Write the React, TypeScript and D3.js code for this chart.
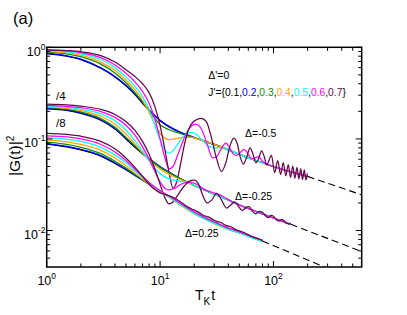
import React from "react";
import * as d3 from "d3";

type P = [number, number];

// ---------- Δ = -0.5 (unscaled) ----------
const dm05Tail: P[] = [[25,0.094],[30,0.087],[40,0.076],[50,0.068],[60,0.062],[80,0.055],[100,0.05],[130,0.045],[160,0.042],[200,0.039]];
const dm05_J01: P[] = [[1,0.855],[1.5,0.8],[2,0.735],[3,0.59],[4,0.475],[5,0.38],[6,0.305],[7,0.245],[8,0.205],[9,0.178],[10,0.158],[12,0.135],[15,0.118],[20,0.103]];
const dm05_J02: P[] = [[1,0.862],[1.5,0.806],[2,0.742],[3,0.597],[4,0.481],[5,0.386],[6,0.31],[7,0.25],[8,0.208],[9,0.18],[10,0.16],[12,0.137],[15,0.119],[20,0.104]];
const dm05_J03: P[] = [[1,0.89],[1.5,0.848],[2,0.79],[3,0.655],[4,0.525],[5,0.41],[6,0.32],[7,0.255],[8,0.203],[9,0.167],[10,0.143],[12,0.126],[15,0.115],[20,0.103]];
const dm05_J04: P[] = [[1,0.905],[1.5,0.872],[2,0.822],[3,0.69],[4,0.56],[5,0.44],[6,0.345],[7,0.265],[8,0.195],[9,0.145],[10,0.115],[11,0.102],[12,0.098],[13.5,0.1],[16,0.104],[19,0.104],[22,0.099]];
const dm05_J05: P[] = [[1,0.92],[1.5,0.893],[2,0.85],[3,0.735],[4,0.6],[5,0.475],[6,0.375],[7,0.29],[8,0.21],[9,0.14],[10,0.097],[11,0.076],[12,0.07],[13,0.074],[14.5,0.09],[16.5,0.11],[18.5,0.118],[21,0.112],[24,0.094],[27.5,0.082],[31,0.08],[35,0.081],[40,0.076],[50,0.068]];
const dm05_J06: P[] = [[1,0.935],[1.5,0.912],[2,0.875],[3,0.77],[4,0.64],[5,0.52],[6,0.42],[7,0.33],[8,0.245],[9,0.165],[10,0.1],[11,0.063],[12,0.047],[13,0.05],[14.5,0.07],[16.5,0.105],[18.5,0.135],[20.5,0.145],[23,0.13],[26,0.088],[29,0.062],[31.5,0.064],[35,0.08],[38,0.09],[41,0.08],[44,0.069],[47,0.066],[51,0.071],[55,0.077],[59,0.07],[64,0.061],[69,0.062],[74,0.064],[80,0.057],[90,0.052]];
const dm05_J07: P[] = [[1,0.935],[1.5,0.92],[2,0.895],[3,0.81],[4,0.69],[5,0.57],[6,0.48],[7,0.4],[8,0.32],[9,0.225],[10,0.14],[11,0.078],[12,0.043],[13,0.029],[14,0.034],[15,0.05],[16,0.075],[17,0.105],[18.5,0.14],[20.5,0.16],[23,0.168],[25.5,0.155],[28,0.11],[31,0.066],[34.8,0.044],[38,0.055],[41.5,0.085],[44.7,0.102],[48,0.088],[51,0.063],[54.2,0.053],[58,0.063],[62.2,0.08],[66,0.068],[70,0.055],[74,0.061],[78.5,0.074],[83,0.064],[87,0.052],[96,0.066],[102.5,0.043],[109,0.058],[115.5,0.041],[122,0.055],[128.5,0.0395],[135,0.0525],[141.5,0.038],[148,0.0505],[154.5,0.0372],[161,0.049],[167.5,0.0365],[174,0.0475],[180.5,0.036],[187,0.046],[193.5,0.0355],[199,0.042]];

// ---------- Δ = -0.25 (divided by 4) ----------
const dm025Tail: P[] = [[15,0.037],[20,0.031],[25,0.0275],[30,0.025],[40,0.0215],[50,0.019],[60,0.0174],[80,0.0152],[100,0.0137],[120,0.0126],[142,0.0117]];
const dm025_J01: P[] = [[1,0.213],[1.5,0.205],[2,0.19],[3,0.16],[4,0.128],[5,0.1],[6,0.081],[7,0.069],[8,0.06],[10,0.049],[12,0.043]];
const dm025_J02: P[] = [[1,0.215],[1.5,0.207],[2,0.192],[3,0.162],[4,0.13],[5,0.102],[6,0.083],[7,0.07],[8,0.061],[10,0.05],[12,0.0435]];
const dm025_J03: P[] = [[1,0.219],[1.5,0.211],[2,0.197],[3,0.167],[4,0.134],[5,0.104],[6,0.084],[7,0.07],[8,0.061],[10,0.049],[12,0.043]];
const dm025_J04: P[] = [[1,0.223],[1.5,0.216],[2,0.204],[3,0.177],[4,0.145],[5,0.113],[6,0.088],[7,0.071],[8,0.059],[10,0.047],[12,0.041],[15,0.0362],[20,0.0308]];
const dm025_J05: P[] = [[1,0.227],[1.5,0.221],[2,0.211],[3,0.188],[4,0.158],[5,0.125],[6,0.096],[7,0.074],[8,0.058],[9,0.048],[10,0.042],[11,0.0385],[12.5,0.036],[15,0.0345],[18,0.0328],[22,0.0295]];
const dm025_J06: P[] = [[1,0.232],[1.5,0.227],[2,0.219],[3,0.199],[4,0.172],[5,0.141],[6,0.11],[7,0.082],[8,0.06],[9,0.044],[10,0.034],[11,0.029],[12,0.0278],[13.5,0.029],[15.5,0.0322],[18,0.0338],[21,0.032],[24,0.0287],[27,0.0268],[31,0.0254],[36,0.0235],[42,0.021],[48,0.0196],[54,0.0182]];
const dm025_J07: P[] = [[1,0.24],[1.5,0.236],[2,0.228],[3,0.21],[4,0.185],[5,0.155],[6,0.124],[7,0.094],[8,0.068],[9,0.047],[10,0.032],[11,0.023],[12,0.0195],[13,0.0205],[14.5,0.025],[16.5,0.031],[18.5,0.035],[20,0.0355],[22,0.0315],[24,0.0235],[26,0.02],[28.5,0.0215],[31.5,0.0255],[34.5,0.022],[38.6,0.0176],[42,0.019],[45.7,0.0205],[49,0.0185],[53,0.0165],[57,0.0178],[61,0.0182],[65,0.0163],[70,0.0152],[75,0.0162],[80,0.0158],[85,0.0145],[90,0.0138],[95,0.0146],[100,0.0143],[106,0.0131],[112,0.0127],[118,0.0132],[124,0.0128],[130,0.012],[136,0.0118],[142,0.0121]];

// ---------- Δ = 0.25 (divided by 8) ----------
const dp025Tail: P[] = [[10,0.027],[12,0.0235],[15,0.0196],[20,0.0157],[25,0.0136],[30,0.0122],[40,0.0104],[50,0.0095],[65,0.0084],[80,0.0077]];
const dp025_J01: P[] = [[1,0.088],[1.5,0.082],[2,0.076],[3,0.065],[4,0.054],[5,0.046],[6,0.04],[7,0.0355],[8,0.032]];
const dp025_J02: P[] = [[1,0.089],[1.5,0.083],[2,0.077],[3,0.066],[4,0.055],[5,0.0465],[6,0.0405],[7,0.0358],[8,0.0322]];
const dp025_J03: P[] = [[1,0.092],[1.5,0.087],[2,0.081],[3,0.069],[4,0.057],[5,0.048],[6,0.041],[7,0.036],[8,0.0322]];
const dp025_J04: P[] = [[1,0.097],[1.5,0.093],[2,0.087],[3,0.075],[4,0.062],[5,0.051],[6,0.0425],[7,0.0365],[8,0.032],[10,0.0265],[12,0.023],[15,0.019],[20,0.0152],[25,0.0132],[30,0.0119],[40,0.0102],[50,0.0094],[65,0.0083],[80,0.0076]];
const dp025_J05: P[] = [[1,0.103],[1.5,0.099],[2,0.094],[3,0.081],[4,0.067],[5,0.055],[6,0.045],[7,0.038],[8,0.033],[10,0.027],[12,0.0232],[15,0.0193],[20,0.0154],[25,0.0133],[30,0.012],[40,0.0103],[50,0.0094],[65,0.0083],[80,0.0076]];
const dp025_J06: P[] = [[1,0.108],[1.5,0.105],[2,0.1],[3,0.087],[4,0.072],[5,0.058],[6,0.047],[7,0.039],[8,0.0335],[10,0.0272],[12,0.0238],[15,0.02],[20,0.016],[25,0.0139],[30,0.0125],[40,0.0107],[50,0.0097],[65,0.0086],[80,0.0078]];
const dp025_J07: P[] = [[1,0.115],[1.5,0.112],[2,0.107],[3,0.094],[4,0.078],[5,0.062],[6,0.049],[7,0.039],[8,0.032],[9,0.028],[10,0.0258],[11,0.0248],[12,0.024],[13.5,0.0225],[15,0.0208],[17,0.0185],[19,0.0172],[21,0.0163],[23,0.0152],[25,0.0144],[27,0.014],[29.5,0.0131],[32,0.0125],[35,0.0121],[38,0.0114],[42,0.011],[46,0.0103],[50,0.0099],[56,0.0094],[62,0.0088],[70,0.0083],[80,0.0078]];

// ---------- asymptotic dashed lines ----------
const dashM05: P[] = [[200,0.039],[600,0.0245]];
const dashM025: P[] = [[142,0.0117],[600,0.0059]];
const dashP025: P[] = [[80,0.0077],[600,0.0027]];

const J_LABELS = ["0.1", "0.2", "0.3", "0.4", "0.5", "0.6", "0.7"];
const J_COLORS = ["#000000", "#0000ff", "#0a8f0a", "#ffa500", "#00ffff", "#ff00ff", "#670748"];

const X_MAJOR = [1, 10, 100];
const X_EXP = ["0", "1", "2"];
const X_MINOR = [2,3,4,5,6,7,8,9,20,30,40,50,60,70,80,90,200,300,400,500];
const Y_MAJOR = [1, 0.1, 0.01];
const Y_EXP = ["0", "-1", "-2"];
const Y_MINOR = [0.005,0.006,0.007,0.008,0.009,0.02,0.03,0.04,0.05,0.06,0.07,0.08,0.09,0.2,0.3,0.4,0.5,0.6,0.7,0.8,0.9];

const join = (head: P[], tail: P[]): P[] =>
  head.concat(tail.filter((p) => p[0] > head[head.length - 1][0]));

const FONT = "'Liberation Sans', Arial, Helvetica, sans-serif";

export default function App() {
  const L = 46.7, R = 361.7, T = 47.3, B = 267;
  const x = d3.scaleLog().domain([1, 600]).range([L, R]);
  const y = d3.scaleLog().domain([0.004, 1]).range([B, T]);
  const line = d3
    .line<P>()
    .x((d) => x(d[0]))
    .y((d) => y(d[1]))
    .curve(d3.curveMonotoneX);

  const groups: P[][][] = [
    [join(dm05_J01, dm05Tail), join(dm05_J02, dm05Tail), join(dm05_J03, dm05Tail), join(dm05_J04, dm05Tail), join(dm05_J05, dm05Tail), join(dm05_J06, dm05Tail), dm05_J07],
    [join(dm025_J01, dm025Tail), join(dm025_J02, dm025Tail), join(dm025_J03, dm025Tail), join(dm025_J04, dm025Tail), join(dm025_J05, dm025Tail), join(dm025_J06, dm025Tail), dm025_J07],
    [join(dp025_J01, dp025Tail), join(dp025_J02, dp025Tail), join(dp025_J03, dp025Tail), dp025_J04, dp025_J05, dp025_J06, dp025_J07],
  ];
  const dashes = [dashM05, dashM025, dashP025];

  const majLen = 6, minLen = 3.5;

  return (
    <svg
      width={407}
      height={315}
      style={{ position: "absolute", left: 0, top: 0, background: "#fff" }}
      fontFamily={FONT}
    >
      <defs>
        <clipPath id="plotclip">
          <rect x={L} y={T} width={R - L} height={B - T} />
        </clipPath>
      </defs>
      <rect x={0} y={0} width={407} height={315} fill="#fff" />

      <g clipPath="url(#plotclip)" fill="none">
        {groups.map((g, gi) =>
          g.map((c, ci) => (
            <path key={`c${gi}-${ci}`} d={line(c) || ""} stroke={J_COLORS[ci]} strokeWidth={1.25} />
          ))
        )}
        {dashes.map((d, i) => (
          <path key={`d${i}`} d={line(d) || ""} stroke="#000" strokeWidth={1.1} strokeDasharray="7,4" />
        ))}
      </g>

      {/* ticks */}
      <g stroke="#000" strokeWidth={1}>
        {X_MAJOR.map((t) => (
          <g key={`xm${t}`}>
            <line x1={x(t)} x2={x(t)} y1={B} y2={B - majLen} />
            <line x1={x(t)} x2={x(t)} y1={T} y2={T + majLen} />
          </g>
        ))}
        {X_MINOR.map((t) => (
          <g key={`xn${t}`}>
            <line x1={x(t)} x2={x(t)} y1={B} y2={B - minLen} />
            <line x1={x(t)} x2={x(t)} y1={T} y2={T + minLen} />
          </g>
        ))}
        {Y_MAJOR.map((v) => (
          <g key={`ym${v}`}>
            <line x1={L} x2={L + majLen} y1={y(v)} y2={y(v)} />
            <line x1={R} x2={R - majLen} y1={y(v)} y2={y(v)} />
          </g>
        ))}
        {Y_MINOR.map((v) => (
          <g key={`yn${v}`}>
            <line x1={L} x2={L + minLen} y1={y(v)} y2={y(v)} />
            <line x1={R} x2={R - minLen} y1={y(v)} y2={y(v)} />
          </g>
        ))}
      </g>
      <rect x={L} y={T} width={R - L} height={B - T} fill="none" stroke="#000" strokeWidth={1.5} />

      {/* tick labels */}
      {X_MAJOR.map((t, i) => (
        <text key={`xl${t}`} x={x(t)} y={285} textAnchor="middle" fontSize={12.5} fill="#000">
          10<tspan fontSize={8.5} dy={-6}>{X_EXP[i]}</tspan>
        </text>
      ))}
      {Y_MAJOR.map((v, i) => (
        <text key={`yl${v}`} x={45.5} y={y(v) + 8.5} textAnchor="end" fontSize={12.5} fill="#000">
          10<tspan fontSize={8.5} dy={-6}>{Y_EXP[i]}</tspan>
        </text>
      ))}

      {/* axis titles */}
      <text x={195} y={300} fontSize={14} fill="#000">
        T<tspan fontSize={10} dy={4.5}>K</tspan>
        <tspan fontSize={14} dy={-4.5} dx={1}>t</tspan>
      </text>
      <text transform="translate(20,176) rotate(-90)" fontSize={15.5} fill="#000">
        |G(t)|<tspan fontSize={10} dy={-6}>2</tspan>
      </text>

      {/* panel label */}
      <text x={13} y={23.5} fontSize={16.5} fill="#000">(a)</text>

      {/* annotations */}
      <text x={56} y={99.5} fontSize={11.5} fill="#000">/4</text>
      <text x={56} y={126.5} fontSize={11.5} fill="#000">/8</text>
      <text x={208.3} y={78.5} fontSize={10.5} fill="#000">Δ'=0</text>
      <text x={208.3} y={96} fontSize={10.3} fill="#000">
        J'={"{"}
        {J_LABELS.map((lab, i) => (
          <React.Fragment key={`jl${i}`}>
            <tspan fill={J_COLORS[i]}>{lab}</tspan>
            {i < J_LABELS.length - 1 ? <tspan fill="#000">,</tspan> : null}
          </React.Fragment>
        ))}
        <tspan fill="#000">{"}"}</tspan>
      </text>
      <text x={245} y={137} fontSize={10.5} fill="#000">Δ=-0.5</text>
      <text x={235} y={200} fontSize={10.5} fill="#000">Δ=-0.25</text>
      <text x={185} y={237} fontSize={10.5} fill="#000">Δ=0.25</text>
    </svg>
  );
}
